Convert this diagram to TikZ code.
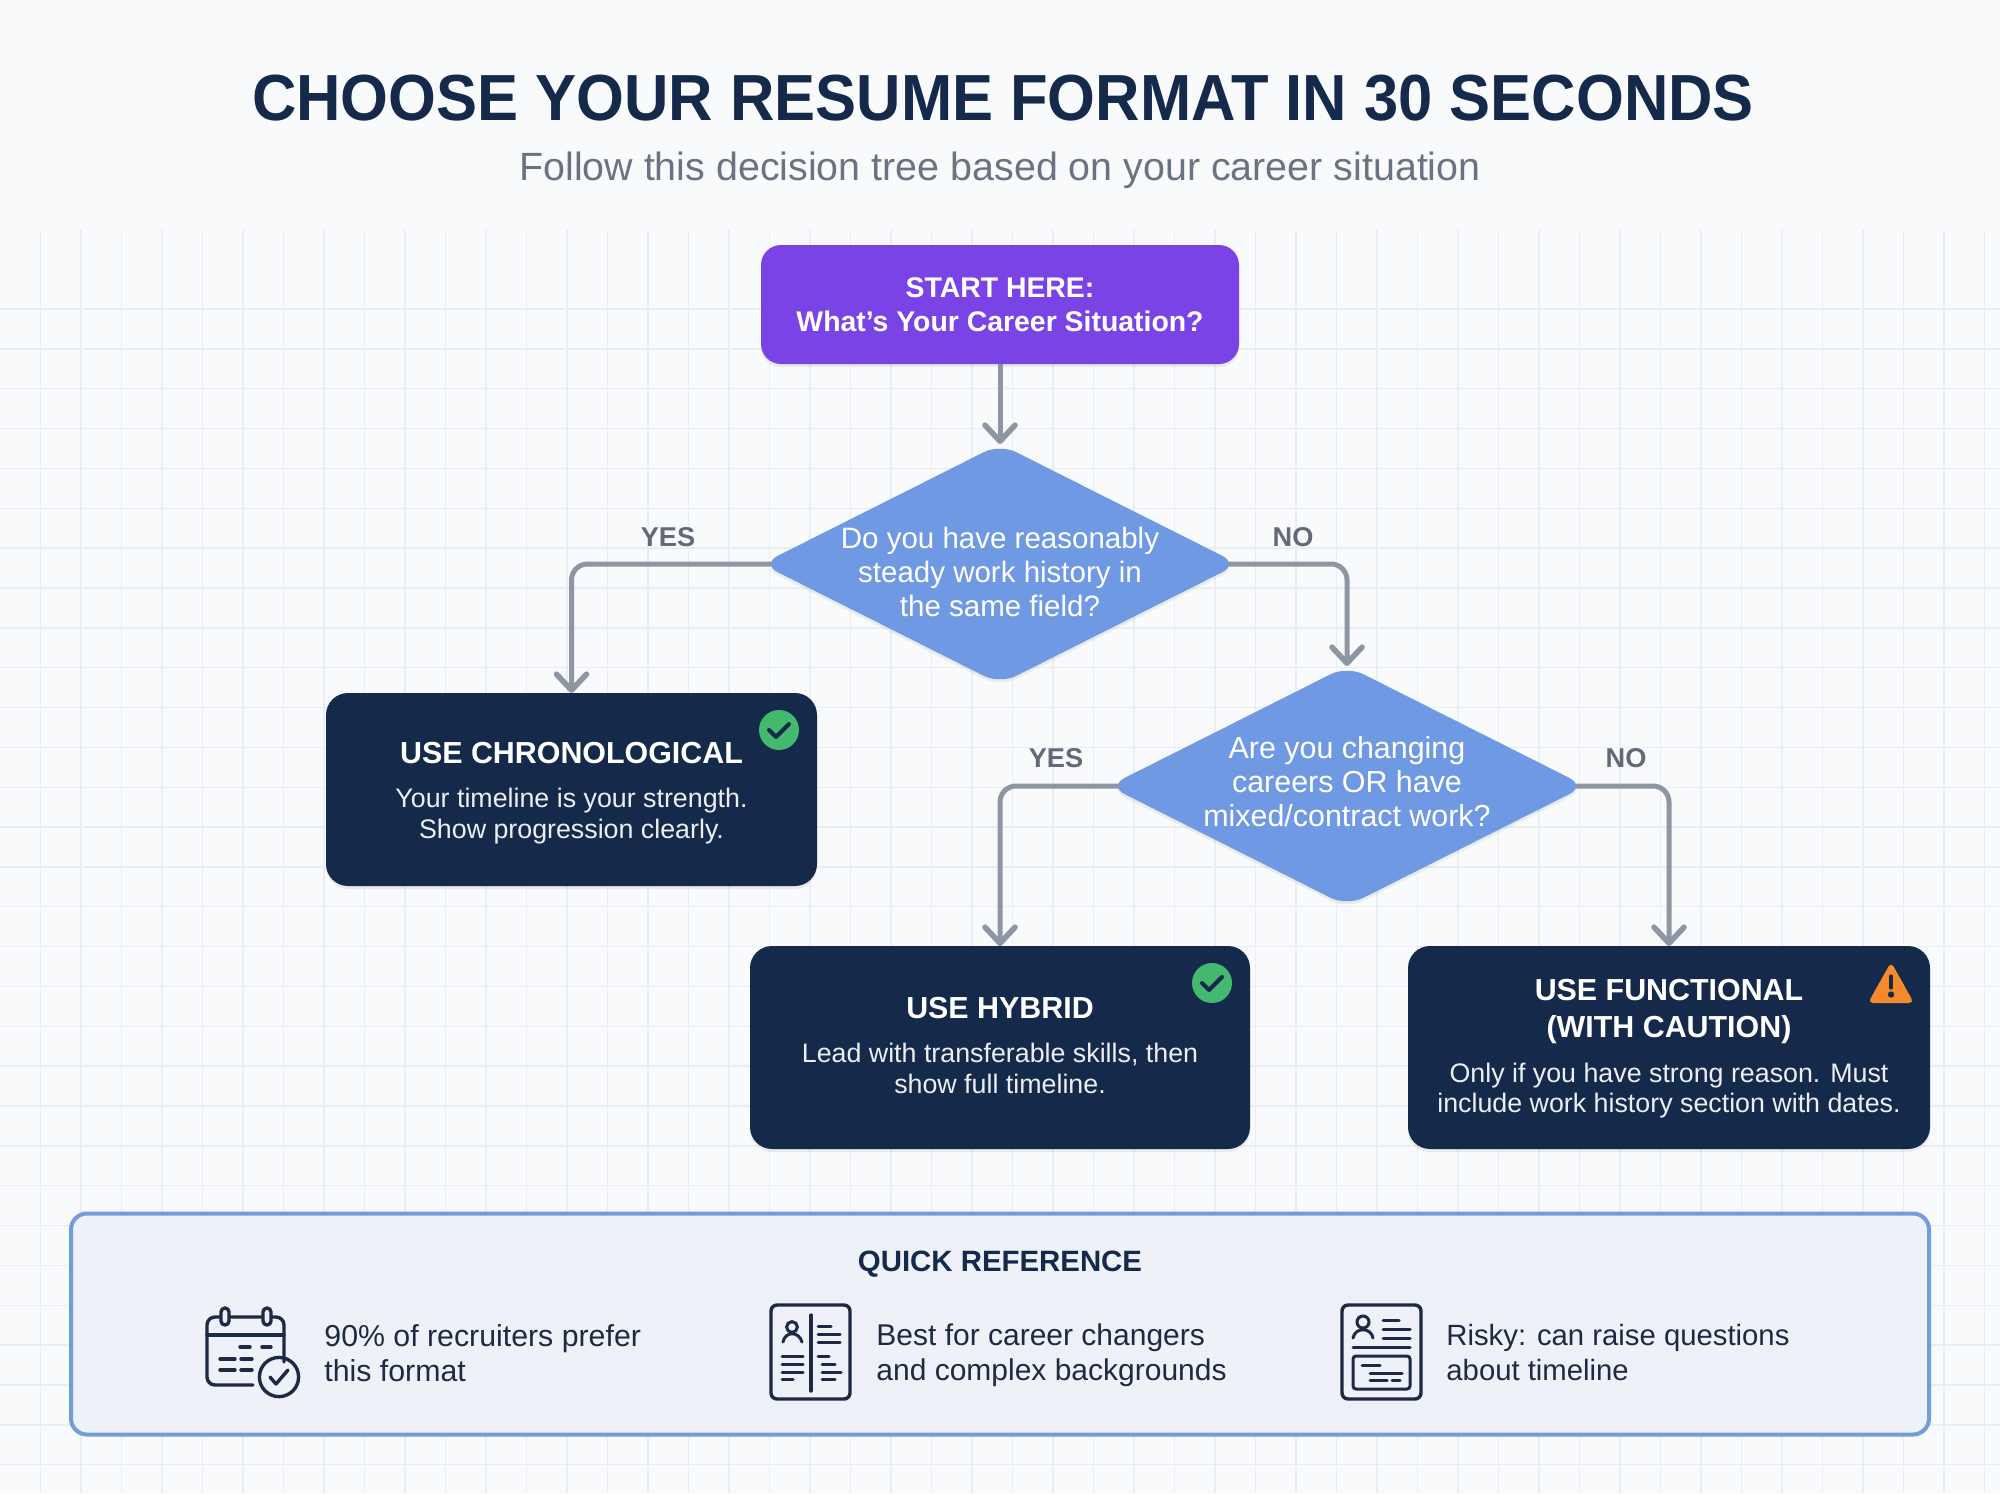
\documentclass[tikz,border=0pt]{standalone}
\usepackage{fontspec}
\setmainfont{Liberation Sans}
\usetikzlibrary{arrows.meta,shapes.geometric,shadows,calc}
\definecolor{bgc}{HTML}{F8FAFC}
\definecolor{gridc}{HTML}{EAEDF1}
\definecolor{navy}{HTML}{15294B}
\definecolor{purp}{HTML}{7A43E6}
\definecolor{bluec}{HTML}{6F9AE3}
\definecolor{arrowc}{HTML}{8F96A3}
\definecolor{labelc}{HTML}{626A78}
\definecolor{subc}{HTML}{6B7280}
\definecolor{greenc}{HTML}{42B96F}
\definecolor{orangec}{HTML}{F58A2C}
\definecolor{panelc}{HTML}{EEF1F8}
\definecolor{panelb}{HTML}{739CDB}
\definecolor{iconc}{HTML}{1E2A44}
\tikzset{
  x=0.5pt,y=-0.5pt,
  softshadow/.style={drop shadow={shadow xshift=0pt,shadow yshift=-1.5pt,opacity=.09,fill=black!70}},
  gridline/.style={draw=gridc,line width=.7pt},
  startbox/.style={rectangle,rounded corners=10pt,fill=purp,minimum width=239pt,minimum height=59.5pt,inner sep=0pt,outer sep=0pt,softshadow},
  darkbox/.style={rectangle,rounded corners=11pt,fill=navy,inner sep=0pt,outer sep=0pt,softshadow},
  qbox/.style={diamond,rounded corners=9pt,fill=bluec,minimum width=238.5pt,minimum height=120pt,inner sep=0pt,outer sep=0pt,softshadow},
  qtext/.style={text=white,align=center,inner sep=0pt,font=\fontsize{15.2}{17}\selectfont},
  rtitle/.style={text=white,align=center,inner sep=0pt,font=\fontsize{15.2}{18.5}\selectfont\bfseries},
  rbody/.style={text=white!92!navy,align=center,inner sep=0pt,font=\fontsize{13.4}{15.4}\selectfont},
  edgelabel/.style={text=labelc,inner sep=0pt,font=\fontsize{13.6}{15}\selectfont\bfseries},
  conn/.style={draw=arrowc,line width=2.5pt,rounded corners=8pt,line join=round,
     -{Straight Barb[length=8pt,width=15pt,line width=2.8pt,round]}},
  iconline/.style={draw=iconc,line width=1.7pt,line cap=round,line join=round},
  iconthin/.style={draw=iconc,line width=1.5pt,line cap=round},
  itemtext/.style={text=iconc,align=left,anchor=west,inner sep=0pt},
  okdot/.style={circle,fill=greenc,minimum size=20pt,inner sep=0pt},
}
\begin{document}
\begin{tikzpicture}
\useasboundingbox (0,0) rectangle (2000,1493);
\fill[bgc] (0,0) rectangle (2000,1493);
% grid
\foreach \i in {1,...,49}{\draw[gridline] ({40.5*\i},230) -- ({40.5*\i},1493);}
\foreach \i in {0,...,29}{\draw[gridline] (0,{309+39.85*\i}) -- (2000,{309+39.85*\i});}
% titles
\node[inner sep=0pt,text=navy,font=\fontsize{32.6}{36}\selectfont\bfseries] (title) at (1003,98) {\scalebox{.943}[1]{CHOOSE YOUR RESUME FORMAT IN 30 SECONDS}};
\node[inner sep=0pt,text=subc,font=\fontsize{19.7}{22}\selectfont] (subtitle) at (1000,170) {Follow this decision tree based on your career situation};
% main nodes
\node[startbox] (start) at (1000,304.5) {};
\node[text=white,align=center,inner sep=0pt,font=\fontsize{14.2}{17}\selectfont\bfseries] (starttext) at (1000,305) {START HERE:\\What’s Your Career Situation?};
\node[qbox] (d1) at (1000,564) {};
\node[qtext,font=\fontsize{14.75}{17}\selectfont] (d1text) at (1000,572) {Do you have reasonably\\steady work history in\\the same field?};
\node[qbox] (d2) at (1347,786) {};
\node[qtext] (d2text) at (1347,782) {Are you changing\\careers OR have\\mixed/contract work?};
\node[darkbox,minimum width=245.5pt,minimum height=96.5pt] (chrono) at (571.5,789.5) {};
\node[rtitle] (chronot) at (571.5,753) {USE CHRONOLOGICAL};
\node[rbody] (chronob) at (571.5,816) {Your timeline is your strength.\\Show progression clearly.};
\node[darkbox,minimum width=250pt,minimum height=101.5pt] (hybrid) at (1000,1047.5) {};
\node[rtitle] (hybridt) at (1000,1008) {USE HYBRID};
\node[rbody] (hybridb) at (1000,1068.5) {Lead with transferable skills, then\\show full timeline.};
\node[darkbox,minimum width=261pt,minimum height=101.5pt] (func) at (1669,1047.5) {};
\node[rtitle] (funct) at (1669,1012) {USE FUNCTIONAL\\(WITH CAUTION)};
\node[rbody] (funcb) at (1669,1090.5) {Only if you have strong reason. Must\\include work history section with dates.};
% connectors
\draw[conn] (start.south) -- (d1.north);
\draw[conn,shorten <=-5pt] (d1.west) -- (d1.west -| chrono.north) -- (chrono.north);
\draw[conn,shorten <=-5pt] (d1.east) -- (d1.east -| d2.north) -- (d2.north);
\draw[conn,shorten <=-5pt] (d2.west) -- (d2.west -| hybrid.north) -- (hybrid.north);
\draw[conn,shorten <=-5pt] (d2.east) -- (d2.east -| func.north) -- (func.north);
\node[edgelabel] (yes1) at (668,537) {YES};
\node[edgelabel] (no1) at (1293,537) {NO};
\node[edgelabel] (yes2) at (1056,758) {YES};
\node[edgelabel] (no2) at (1626,758) {NO};
% status icons
\node[okdot] (ok1) at (779,730) {};
\draw[navy,line width=2pt,line cap=round,line join=round] ($(ok1)+(-10,0)$) -- ++(7,7) -- ++(13,-13);
\node[okdot] (ok2) at (1212,983) {};
\draw[navy,line width=2pt,line cap=round,line join=round] ($(ok2)+(-10,0)$) -- ++(7,7) -- ++(13,-13);
\fill[orangec,rounded corners=2.5pt] (1891,962) -- (1914,1003) -- (1868,1003) -- cycle;
\draw[navy,line width=1.6pt,line cap=round] (1891,976) -- (1891,988);
\fill[navy] (1891,994.5) circle (1.6pt);
% panel
\node[rectangle,rounded corners=8pt,fill=panelc,draw=panelb,line width=2pt,minimum width=929pt,minimum height=110.5pt,inner sep=0pt] (panel) at (1000,1324) {};
\node[inner sep=0pt,text=navy,font=\fontsize{14.7}{17}\selectfont\bfseries] (panelt) at (1000,1264.5) {QUICK REFERENCE};
\node[itemtext,font=\fontsize{15.15}{17.5}\selectfont] (item1) at (324,1353) {90\% of recruiters prefer\\this format};
\node[itemtext,font=\fontsize{15}{17.5}\selectfont] (item2) at (876,1355) {Best for career changers\\and complex backgrounds};
\node[itemtext,font=\fontsize{14.65}{17.5}\selectfont] (item3) at (1446,1353) {Risky: can raise questions\\about timeline};
% calendar icon
\draw[iconline,rounded corners=4pt] (284,1362) -- (284,1317) -- (207,1317) -- (207,1385) -- (253,1385);
\draw[iconline] (207,1335) -- (284,1335);
\draw[iconline,fill=panelc,rounded corners=2pt] (221,1308) rectangle (229,1325);
\draw[iconline,fill=panelc,rounded corners=2pt] (263,1308) rectangle (271,1325);
\draw[iconline] (279,1377) circle (9.8pt);
\draw[iconline] (270,1377) -- (276,1384) -- (288,1370);
\foreach \a/\b/\y in {240/250/1347,262/271/1347,220/235/1359,241/252/1359,220/235/1370,241/252/1370}{\draw[iconline] (\a,\y) -- (\b,\y);}
% split resume icon
\draw[iconline,rounded corners=3pt] (771,1305) rectangle (850,1399);
\draw[iconline] (811,1315) -- (811,1391);
\draw[iconthin] (792,1327) circle (2.7pt);
\draw[iconthin] (783,1342) .. controls (785,1331) and (799,1331) .. (802,1342);
\foreach \a/\b/\y in {782/803/1356,782/803/1364,782/803/1372,782/793/1379,818/831/1326,818/840/1334,818/840/1342,818/829/1356,822/835/1364,822/841/1372,822/835/1379}{\draw[iconthin] (\a,\y) -- (\b,\y);}
% resume icon
\draw[iconline,rounded corners=3pt] (1342,1305) rectangle (1421,1399);
\draw[iconthin] (1363,1322) circle (3pt);
\draw[iconthin] (1353,1338) .. controls (1355,1327) and (1371,1327) .. (1373,1338);
\draw[iconthin,rounded corners=1.5pt] (1353,1356) rectangle (1410,1389);
\foreach \a/\b/\y in {1383/1399/1320,1383/1410/1329,1383/1410/1338,1353/1410/1347,1362/1380/1365,1370/1402/1373,1370/1387/1380,1392/1400/1380}{\draw[iconthin] (\a,\y) -- (\b,\y);}
\end{tikzpicture}
\end{document}
